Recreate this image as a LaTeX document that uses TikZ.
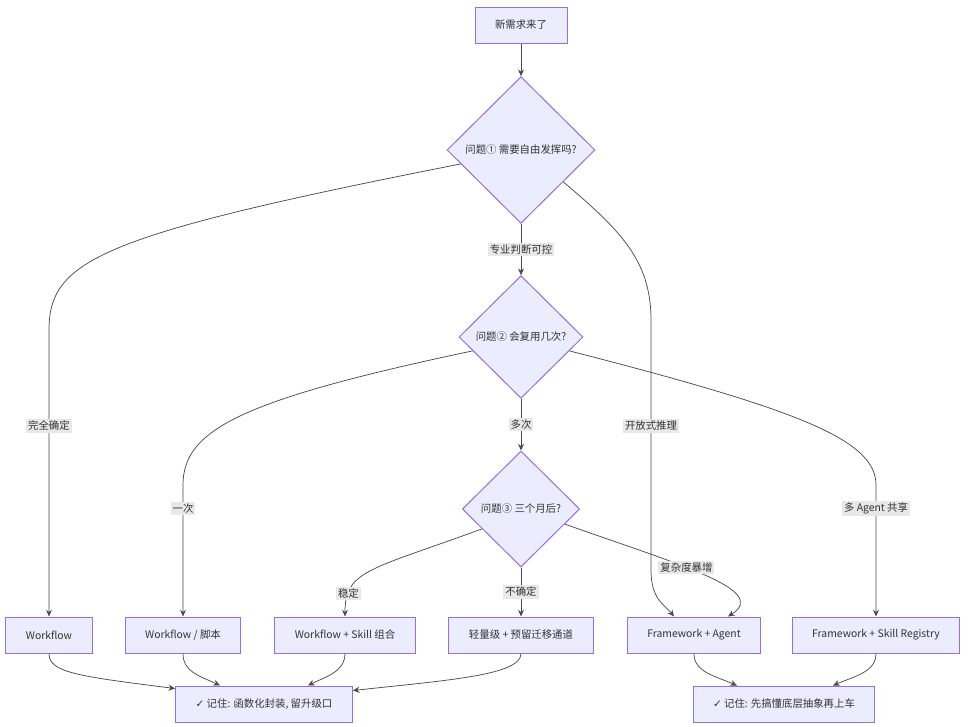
\documentclass[tikz,border=0pt]{standalone}
\usepackage{fontspec}
\setmainfont{Noto Sans CJK SC}
\newfontfamily\symfont{DejaVu Sans}
\usetikzlibrary{shapes.geometric,arrows.meta}
\definecolor{nodefill}{HTML}{ECECFF}
\definecolor{nodeline}{HTML}{9370DB}
\definecolor{edgeline}{HTML}{4A4A4A}
\definecolor{textcol}{HTML}{333333}
\definecolor{labelfill}{HTML}{E8E8E8}
\tikzstyle{stepbox} = [rectangle, draw=nodeline, fill=nodefill, line width=0.75pt, minimum height=27pt, inner xsep=15pt, text=textcol]
\tikzstyle{question} = [diamond, aspect=1, draw=nodeline, fill=nodefill, line width=0.75pt, inner sep=0pt, text=textcol]
\tikzstyle{arrow} = [draw=edgeline, line width=0.55pt, -{Stealth[length=5pt,width=4.5pt]}]
\tikzstyle{edgelabel} = [fill=labelfill, inner sep=1.5pt, text=textcol]

\begin{document}
\begin{tikzpicture}[x=0.75pt, y=-0.75pt, font=\fontsize{7.8pt}{9pt}\selectfont]
        \useasboundingbox (0,0) rectangle (972,726);
        \node (start) [stepbox] at (521,25) {新需求来了};
        \node (q1) [question, minimum width=111pt, minimum height=110pt] at (521,150) {问题① 需要自由发挥吗?};
        \node (q2) [question, minimum width=93pt, minimum height=92pt] at (521,337) {问题② 会复用几次?};
        \node (q3) [question, minimum width=88pt, minimum height=87pt] at (521,509) {问题③ 三个月后?};
        \node (wf) [stepbox] at (49,635) {Workflow};
        \node (wfs) [stepbox] at (183,635) {Workflow / 脚本};
        \node (ws) [stepbox] at (345,635) {Workflow + Skill 组合};
        \node (light) [stepbox] at (521,635) {轻量级 + 预留迁移通道};
        \node (fa) [stepbox] at (694,635) {Framework + Agent};
        \node (fsr) [stepbox] at (876,635) {Framework + Skill Registry};
        \node (memo1) [stepbox] at (264,704) {{\symfont ✓} 记住: 函数化封装, 留升级口};
        \node (memo2) [stepbox] at (784,704) {{\symfont ✓} 记住: 先搞懂底层抽象再上车};
        \draw [arrow] (start) -- (q1);
        \draw [arrow] (q1) -- node[edgelabel] {专业判断可控} (q2);
        \draw [arrow] (q2) -- node[edgelabel] {多次} (q3);
        \draw [arrow] (q3) -- node[edgelabel] {不确定} (light);
        \draw [arrow] (q1.193) .. controls (100,235) and (49,260) .. (49,330) -- node[edgelabel, pos=0.335] {完全确定} (wf);
        \draw [arrow] (q1.323) .. controls (620,230) and (651,260) .. (651,320) -- node[edgelabel, pos=0.424] {开放式推理} (651,570) .. controls (651,600) and (665,605) .. ([xshift=-15pt]fa.north);
        \draw [arrow] (q2.196) .. controls (240,400) and (183,430) .. (183,485) -- node[edgelabel, pos=0.18] {一次} (wfs);
        \draw [arrow] (q2.344) .. controls (800,410) and (876,440) .. (876,485) -- node[edgelabel, pos=0.18] {多 Agent 共享} (fsr);
        \draw [arrow] (q3.207) .. controls (370,570) and (345,570) .. node[edgelabel, pos=0.8] {稳定} (ws);
        \draw [arrow] (q3.341) .. controls (680,565) and (770,590) .. node[edgelabel, pos=0.41] {复杂度暴增} ([xshift=25.5pt]fa.north);
        \draw [arrow] (wf) .. controls (49,672) and (75,676) .. ([yshift=-2.25pt]memo1.north west);
        \draw [arrow] (wfs) .. controls (183,672) and (200,676) .. ([xshift=-33pt]memo1.north);
        \draw [arrow] (ws) .. controls (345,672) and (325,677) .. ([xshift=33pt]memo1.north);
        \draw [arrow] (light) .. controls (521,675) and (450,680) .. ([yshift=-3.75pt]memo1.north east);
        \draw [arrow] (fa) .. controls (694,672) and (715,676) .. ([xshift=-35.25pt]memo2.north);
        \draw [arrow] (fsr) .. controls (876,672) and (855,676) .. ([xshift=36.75pt]memo2.north);
\end{tikzpicture}
\end{document}
